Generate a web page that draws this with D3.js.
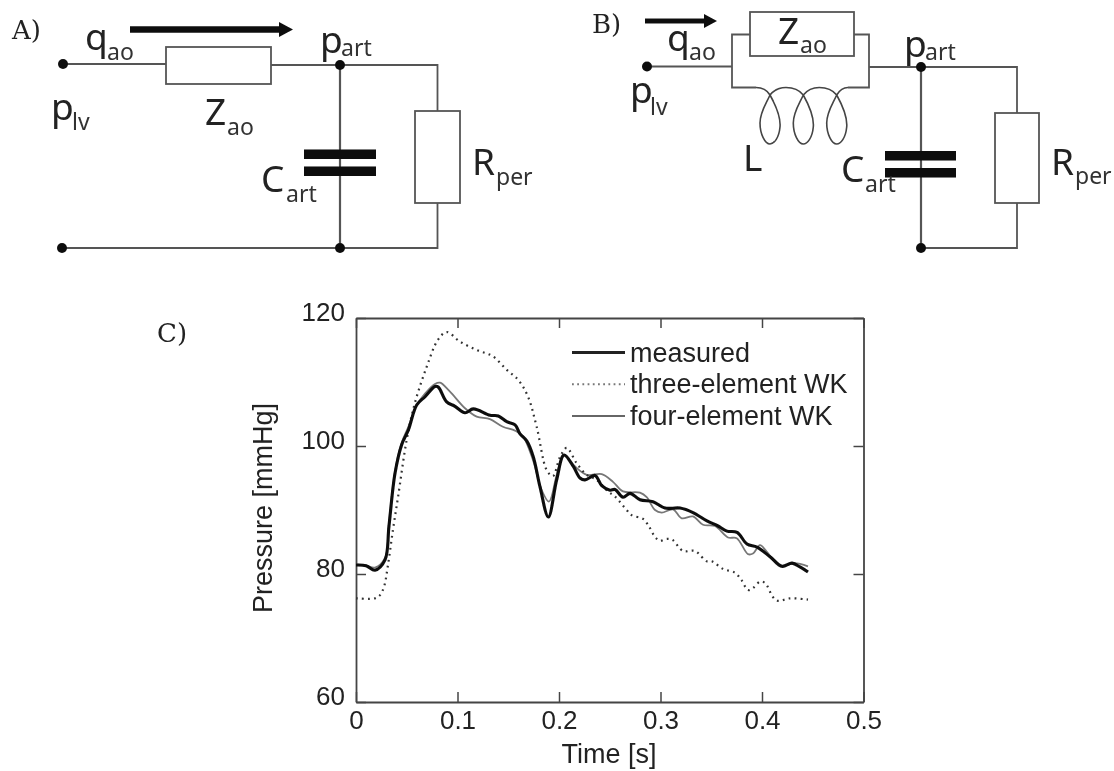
<!DOCTYPE html>
<html><head><meta charset="utf-8">
<script src="https://cdnjs.cloudflare.com/ajax/libs/d3/7.8.5/d3.min.js"></script>
<style>html,body{margin:0;padding:0;background:#fff}svg{display:block}</style></head>
<body><svg id="c" width="1114" height="771"></svg>
<script>
const seriesNames = ["measured","three-element WK","four-element WK"];
const xTicks = [0,0.1,0.2,0.3,0.4,0.5];
const xTickLabels = ["0","0.1","0.2","0.3","0.4","0.5"];
const yTicks = [60,80,100,120];
const yTickLabels = ["60","80","100","120"];

const measuredT = [0,.0099,.0187,.0286,.0325,.0384,.045,.0516,.0598,.068,.0778,.0811,.0893,.0975,.1074,.1156,.132,.1402,.1485,.1567,.1616,.1682,.1747,.1813,.1895,.1977,.2049,.2141,.2207,.2256,.2355,.2421,.2502,.2552,.2631,.27,.2798,.2926,.3044,.3192,.332,.3458,.3567,.3655,.3754,.3852,.3951,.4079,.4197,.4296,.4374,.4453];
const measuredP = [81.4,81.3,80.6,82.2,87.5,95.7,100.2,102.5,106.4,107.7,109.3,109.2,106.9,106.2,105.2,105.8,104.8,104.7,103.8,103.3,101.9,100.8,98.3,93.6,88.9,94.7,98.6,96.8,95,94.7,95.4,93.8,93.1,93.2,92,92.6,91.6,91.3,90.3,90.3,89.6,88.3,87.5,86.7,86.5,84.7,84.2,82.7,81.2,81.7,81.1,80.3];

const threeT = [0,.0187,.0236,.0276,.0315,.0364,.0414,.05,.058,.0697,.0808,.0894,.1025,.119,.135,.1485,.16,.1695,.178,.188,.194,.201,.2076,.2174,.2273,.2371,.2483,.2552,.2667,.2716,.2828,.2877,.2946,.2995,.3064,.312,.3222,.334,.3455,.3504,.3616,.3734,.38,.3862,.3911,.398,.403,.4108,.4158,.4276,.4453];
const threeP = [76.2,76.2,76.7,78,81.4,86.9,92,101,106.7,112.4,116.6,117.8,116.3,115,114,111.9,110.3,107.7,103,96.2,95.3,98.3,99.7,97.3,95.5,94.7,92.9,92.1,90,89.2,88.6,87.7,85.8,85.2,85.5,85.3,83.6,83.6,82,82,80.8,80.2,79,77.5,77.8,78.8,78.6,76.4,75.8,76.2,76];

const fourT = [0,.0099,.0187,.0286,.0325,.0384,.045,.0516,.0598,.068,.0778,.0828,.0926,.1074,.1189,.132,.1448,.1567,.1645,.1744,.183,.1901,.197,.201,.2059,.2158,.2273,.2421,.2532,.2631,.2798,.2864,.2946,.3012,.3123,.3209,.332,.3419,.3537,.3665,.3751,.3862,.3911,.398,.4046,.4177,.432,.4453];
const fourP = [81.5,81.3,81,82.5,88,96,100.5,103,106.4,108.2,109.7,109.9,108.5,105.9,104.6,104.2,103,102.4,101.5,97.8,93.1,91.3,95,97.3,98.6,96.8,95.5,95.6,94.4,92.9,92.7,92,90,89.6,90.1,88.7,89,87.7,87.5,85.7,85.6,83.1,83.2,84.5,83.5,81.2,81.7,81.2];

const svg = d3.select("#c");
const defs = svg.append("defs");
defs.append("filter").attr("id","soft").attr("x","-5%").attr("y","-5%").attr("width","110%").attr("height","110%")
  .append("feGaussianBlur").attr("stdDeviation",0.45);
const root = svg.append("g").attr("filter","url(#soft)");

const sans = "'Noto Sans',sans-serif", hel = "'Liberation Sans',Arial,sans-serif";
const ink = "#555", wire = 1.8;

function label(x,y,main,sub,subX,subDy){
  root.append("text").attr("x",x).attr("y",y).attr("font-family",sans).attr("fill","#222").attr("font-size",37).text(main);
  if(sub) root.append("text").attr("x",subX).attr("y",y+subDy).attr("font-family",sans).attr("fill","#333").attr("font-size",23).text(sub);
}
function line(pts,w,c){
  root.append("path").attr("d",d3.line()(pts)).attr("fill","none").attr("stroke",c||ink).attr("stroke-width",w||wire);
}
function box(x0,y0,x1,y1){
  root.append("rect").attr("x",x0).attr("y",y0).attr("width",x1-x0).attr("height",y1-y0).attr("fill","#fff").attr("stroke",ink).attr("stroke-width",wire);
}
function dot(x,y,r){ root.append("circle").attr("cx",x).attr("cy",y).attr("r",r||5).attr("fill","#111"); }
function arrow(x0,x1,y,w,hl,hh){
  root.append("path").attr("d",d3.line()([[x0,y-w/2],[x1-hl,y-w/2],[x1-hl,y-hh],[x1,y],[x1-hl,y+hh],[x1-hl,y+w/2],[x0,y+w/2]])+"Z").attr("fill","#111");
}
function shunt(nodeX,capX0,capX1,rX0,rX1,topY,rTop,rBot,capY){
  const rc=(rX0+rX1)/2;
  line([[nodeX,topY],[rc,topY],[rc,rTop]]);
  line([[rc,rBot],[rc,248],[nodeX,248]]);
  line([[nodeX,topY],[nodeX,248]],2.2);
  box(rX0,rTop,rX1,rBot);
  root.append("rect").attr("x",capX0).attr("y",capY).attr("width",capX1-capX0).attr("height",9.5).attr("fill","#0a0a0a");
  root.append("rect").attr("x",capX0).attr("y",capY+17).attr("width",capX1-capX0).attr("height",9.5).attr("fill","#0a0a0a");
  dot(nodeX,topY); dot(nodeX,248);
}

// Panel A
line([[63,64],[166,64]]);
line([[271,65],[340,65]]);
box(166,47,271,84);
dot(63,64);
line([[62,248],[340,248]]);
dot(62,248);
arrow(130,293,29.5,6.5,14,7.5);
shunt(340,304,376,415,460,65,111,203,149.5);
label(85,50,"q","ao",107,10);
label(51,120,"p","lv",72,10);
label(205,125,"Z","ao",227,10);
label(261,192,"C","art",286,10);
label(320,53,"p","art",341,3);
label(472,175,"R","per",496,10);

// Panel B
line([[647,66.5],[732,66.5]]);
dot(647,66.5);
line([[750,34.5],[732,34.5],[732,87.5],[756,87.5]]);
line([[854,34.5],[869,34.5],[869,87.5],[848,87.5]]);
line([[869,67],[921,67]]);
box(750,12,854,56);
{
  const crossX=[770,803.3,836.7];
  let d="M756,87.5 C763,87.5 767,90 770,95 ";
  crossX.forEach((c,i)=>{
    d+=`C${c+5},104 ${c+11},116 ${c+10},127 C${c+9},138 ${c+4},144 ${c},144 C${c-5},144 ${c-10},134 ${c-10},123 C${c-10},112 ${c-4},104 ${c},95 `;
    if(i<2){ const n=crossX[i+1]; d+=`C${c+4},90 ${c+9},87.5 ${c+16},87.5 C${c+24},87.5 ${n-4},90 ${n},95 `; }
    else d+=`C${c+3},90 ${c+6},87.5 848,87.5`;
  });
  root.append("path").attr("d",d).attr("fill","none").attr("stroke","#444").attr("stroke-width",1.6);
}
arrow(645,717,21,5,13,7);
shunt(921,885,956,995,1039,67,113,203,151);
label(667,51,"q","ao",689,9);
label(630,103,"p","lv",650,12);
label(778,44,"Z","ao",800,9);
label(743,171,"L");
label(841,182,"C","art",865,10);
label(904,57,"p","art",925,3);
label(1051,175,"R","per",1075,9);

// Panel letters
[["A)",12,39],["B)",592,33],["C)",157,342]].forEach(([s,x,y])=>{
  root.append("text").attr("x",x).attr("y",y).attr("font-family","'DejaVu Serif',serif").attr("font-size",26).attr("fill","#222").text(s);
});

// Chart C
const x = d3.scaleLinear().domain([0,0.5]).range([356,863.5]);
const y = d3.scaleLinear().domain([60,120]).range([702,318]);
const styleAxis = g=>{
  g.selectAll("path.domain").attr("stroke","#444").attr("stroke-width",1.8);
  g.selectAll(".tick line").attr("stroke","#444").attr("stroke-width",1.5);
  g.selectAll("text").attr("font-family",hel).attr("font-size",26).attr("fill","#222");
};
root.append("g").attr("transform","translate(0,702)")
  .call(d3.axisBottom(x).tickValues(xTicks).tickFormat((d,i)=>xTickLabels[i]).tickSize(-10).tickPadding(9).tickSizeOuter(0)).call(styleAxis);
root.append("g").attr("transform","translate(0,318)")
  .call(d3.axisTop(x).tickValues(xTicks).tickFormat("").tickSize(-10).tickSizeOuter(0)).call(styleAxis);
root.append("g").attr("transform","translate(356,0)")
  .call(d3.axisLeft(y).tickValues(yTicks).tickFormat((d,i)=>yTickLabels[i]).tickSize(-10).tickPadding(10).tickSizeOuter(0)).call(styleAxis)
  .selectAll("text").attr("dy","0.1em").attr("dx",-1);
root.append("g").attr("transform","translate(863.5,0)")
  .call(d3.axisRight(y).tickValues(yTicks).tickFormat("").tickSize(-10).tickSizeOuter(0)).call(styleAxis);

root.append("text").attr("x",609).attr("y",763).attr("text-anchor","middle").attr("font-family",hel).attr("font-size",27).attr("fill","#222").text("Time [s]");
root.append("text").attr("transform","translate(272,508) rotate(-90)").attr("text-anchor","middle").attr("font-family",hel).attr("font-size",27).attr("fill","#222").text("Pressure [mmHg]");

const gen = d3.line().x(d=>x(d[0])).y(d=>y(d[1])).curve(d3.curveCatmullRom.alpha(0.5));
const zipS = (t,p)=>t.map((v,i)=>[v,p[i]]);
const styles = [
  {c:"#0c0c0c",w:3.1,dash:null},
  {c:"#333",w:2.2,dash:"1.8 4.2"},
  {c:"#777",w:1.8,dash:null}
];
const data = [zipS(measuredT,measuredP),zipS(threeT,threeP),zipS(fourT,fourP)];
[2,1,0].forEach(i=>{
  root.append("path").attr("d",gen(data[i])).attr("fill","none").attr("stroke",styles[i].c)
    .attr("stroke-width",styles[i].w).attr("stroke-dasharray",styles[i].dash).attr("stroke-linejoin","round");
});
// Legend
const legY = d3.scalePoint().domain(seriesNames).range([352.5,416]);
seriesNames.forEach((n,i)=>{
  root.append("line").attr("x1",572).attr("x2",625).attr("y1",legY(n)).attr("y2",legY(n))
    .attr("stroke",i==0?"#222":(i==1?"#777":"#666")).attr("stroke-width",i==0?3:1.8).attr("stroke-dasharray",i==1?"1.8 3.4":null);
  root.append("text").attr("x",630).attr("y",legY(n)+9).attr("font-family",hel).attr("font-size",27).attr("fill","#222").text(n);
});
</script></body></html>
